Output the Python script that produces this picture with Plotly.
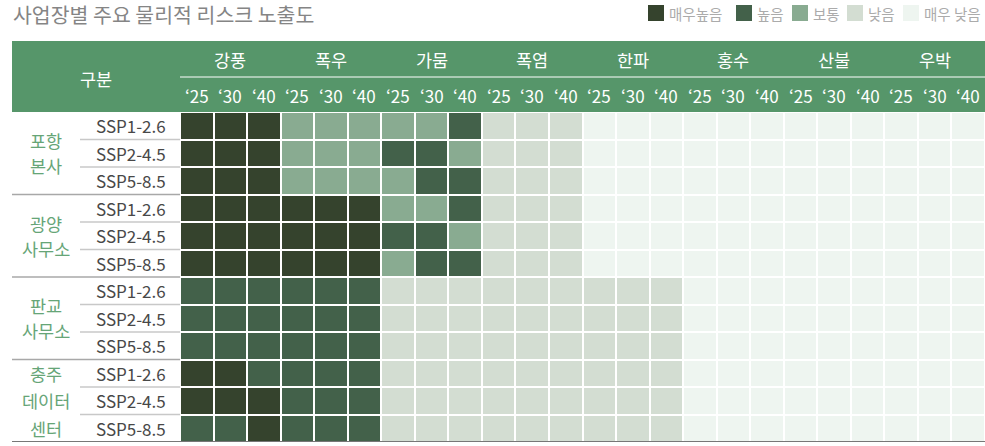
import plotly.graph_objects as go

# ---- data -------------------------------------------------------------
hazards = ["강풍", "폭우", "가뭄", "폭염", "한파", "홍수", "산불", "우박"]
years = ["‘25", "‘30", "‘40"]
sites = ["포항<br>본사", "광양<br>사무소", "판교<br>사무소", "충주<br>데이터<br>센터"]
scenarios = ["SSP1-2.6", "SSP2-4.5", "SSP5-8.5"]

# risk level: 0 매우 낮음, 1 낮음, 2 보통, 3 높음, 4 매우높음
level_names = ["매우 낮음", "낮음", "보통", "높음", "매우높음"]
level_colors = ["#eef5f0", "#d3ddd2", "#89ab91", "#43614a", "#35432d"]
legend_order = [4, 3, 2, 1, 0]

pohang = [
    [4, 4, 4, 2, 2, 2, 2, 2, 3, 1, 1, 1, 0, 0, 0, 0, 0, 0, 0, 0, 0, 0, 0, 0],
    [4, 4, 4, 2, 2, 2, 3, 3, 2, 1, 1, 1, 0, 0, 0, 0, 0, 0, 0, 0, 0, 0, 0, 0],
    [4, 4, 4, 2, 2, 2, 2, 3, 3, 1, 1, 1, 0, 0, 0, 0, 0, 0, 0, 0, 0, 0, 0, 0],
]
gwangyang = [
    [4, 4, 4, 4, 4, 4, 2, 2, 3, 1, 1, 1, 0, 0, 0, 0, 0, 0, 0, 0, 0, 0, 0, 0],
    [4, 4, 4, 4, 4, 4, 3, 3, 2, 1, 1, 1, 0, 0, 0, 0, 0, 0, 0, 0, 0, 0, 0, 0],
    [4, 4, 4, 4, 4, 4, 2, 3, 3, 1, 1, 1, 0, 0, 0, 0, 0, 0, 0, 0, 0, 0, 0, 0],
]
pangyo = [
    [3, 3, 3, 3, 3, 3, 1, 1, 1, 1, 1, 1, 1, 1, 1, 0, 0, 0, 0, 0, 0, 0, 0, 0],
    [3, 3, 3, 3, 3, 3, 1, 1, 1, 1, 1, 1, 1, 1, 1, 0, 0, 0, 0, 0, 0, 0, 0, 0],
    [3, 3, 3, 3, 3, 3, 1, 1, 1, 1, 1, 1, 1, 1, 1, 0, 0, 0, 0, 0, 0, 0, 0, 0],
]
chungju = [
    [4, 4, 3, 3, 3, 3, 1, 1, 1, 1, 1, 1, 1, 1, 1, 0, 0, 0, 0, 0, 0, 0, 0, 0],
    [4, 4, 4, 3, 3, 3, 1, 1, 1, 1, 1, 1, 1, 1, 1, 0, 0, 0, 0, 0, 0, 0, 0, 0],
    [3, 3, 4, 3, 3, 3, 1, 1, 1, 1, 1, 1, 1, 1, 1, 0, 0, 0, 0, 0, 0, 0, 0, 0],
]

title_text = "사업장별 주요 물리적 리스크 노출도"
header_label = "구분"

# ---- layout constants -------------------------------------------------
W, H = 985, 446
FONT = "Noto Sans CJK KR"
HEADER_GREEN = "#56966a"
SITE_GREEN = "#66a577"

z = pohang + gwangyang + pangyo + chungju
n_rows = len(z)
n_cols = len(hazards) * len(years)


def px(x):
    return x / W


def py(y):
    return 1 - y / H


# discrete colour scale
n_lv = len(level_colors)
colorscale = []
for i, c in enumerate(level_colors):
    colorscale.append([i / n_lv, c])
    colorscale.append([(i + 1) / n_lv, c])

fig = go.Figure(
    go.Heatmap(
        z=z,
        x=list(range(n_cols)),
        y=list(range(n_rows)),
        zmin=-0.5,
        zmax=n_lv - 0.5,
        colorscale=colorscale,
        showscale=False,
        xgap=2,
        ygap=2,
        hoverinfo="skip",
    )
)

shapes = []
annotations = []

# title
annotations.append(dict(
    text=title_text, xref="paper", yref="paper", x=px(11), y=py(14),
    xanchor="left", yanchor="middle", showarrow=False,
    font=dict(family=FONT, size=20.5, color="#858585"),
))

# legend swatches
leg_x = [648, 736, 792, 847, 903]
for lx, lv in zip(leg_x, legend_order):
    shapes.append(dict(type="rect", xref="paper", yref="paper",
                       x0=px(lx), x1=px(lx + 16), y0=py(21), y1=py(5),
                       fillcolor=level_colors[lv], line=dict(width=0)))
    annotations.append(dict(
        text=level_names[lv], xref="paper", yref="paper", x=px(lx + 19), y=py(13.5),
        xanchor="left", yanchor="middle", showarrow=False,
        font=dict(family=FONT, size=14.5, color="#ababab"),
    ))

# header band
shapes.append(dict(type="rect", xref="paper", yref="paper", layer="below",
                   x0=px(12), x1=1, y0=py(112), y1=py(41),
                   fillcolor=HEADER_GREEN, line=dict(width=0)))
shapes.append(dict(type="line", xref="x", yref="paper",
                   x0=-0.5, x1=n_cols - 0.5, y0=py(77), y1=py(77),
                   line=dict(color="white", width=1)))
annotations.append(dict(
    text=header_label, xref="paper", yref="paper", x=px(96), y=py(78),
    xanchor="center", yanchor="middle", showarrow=False,
    font=dict(family=FONT, size=17.5, color="white"),
))
for hi, hz in enumerate(hazards):
    annotations.append(dict(
        text=hz, xref="x", yref="paper", x=hi * len(years) + 1, y=py(59),
        xanchor="center", yanchor="middle", showarrow=False,
        font=dict(family=FONT, size=17.5, color="white"),
    ))
    for yi, yr in enumerate(years):
        annotations.append(dict(
            text=yr, xref="x", yref="paper", x=hi * len(years) + yi, y=py(95),
            xanchor="center", yanchor="middle", showarrow=False,
            font=dict(family=FONT, size=17, color="white"),
        ))

# row labels and separators
for si, site in enumerate(sites):
    lines = site.split("<br>")
    centre = si * len(scenarios) + (len(scenarios) - 1) / 2
    step = 25 if len(lines) == 2 else 27.5
    for li, ln in enumerate(lines):
        annotations.append(dict(
            text=ln, xref="paper", yref="y", x=px(46), y=centre,
            yshift=-(li - (len(lines) - 1) / 2) * step,
            xanchor="center", yanchor="middle", showarrow=False,
            font=dict(family=FONT, size=17.5, color=SITE_GREEN),
        ))
    for ri, sc in enumerate(scenarios):
        r = si * len(scenarios) + ri
        annotations.append(dict(
            text=sc, xref="paper", yref="y", x=px(131), y=r,
            xanchor="center", yanchor="middle", showarrow=False,
            font=dict(family=FONT, size=17, color="#484848"),
        ))
        last_in_group = ri == len(scenarios) - 1
        if r == n_rows - 1:
            shapes.append(dict(type="line", xref="paper", yref="y",
                               x0=px(12), x1=1, y0=r + 0.5, y1=r + 0.5,
                               line=dict(color="#4a4a4a", width=1.5)))
        elif last_in_group:
            shapes.append(dict(type="line", xref="paper", yref="y",
                               x0=px(12), x1=px(180), y0=r + 0.5, y1=r + 0.5,
                               line=dict(color="#a8a8a8", width=1.5)))
        else:
            shapes.append(dict(type="line", xref="paper", yref="y",
                               x0=px(80), x1=px(180), y0=r + 0.5, y1=r + 0.5,
                               line=dict(color="#c8c8c8", width=1.5)))

fig.update_layout(
    width=W,
    height=H,
    margin=dict(l=0, r=0, t=0, b=0),
    paper_bgcolor="white",
    plot_bgcolor="white",
    shapes=shapes,
    annotations=annotations,
    xaxis=dict(domain=[px(180), 1], range=[-0.5, n_cols - 0.5],
               showticklabels=False, showgrid=False, zeroline=False, fixedrange=True),
    yaxis=dict(domain=[py(442), py(112)], range=[n_rows - 0.5, -0.5],
               showticklabels=False, showgrid=False, zeroline=False, fixedrange=True),
    showlegend=False,
)

fig.write_html("out.html", config={"displayModeBar": False})
